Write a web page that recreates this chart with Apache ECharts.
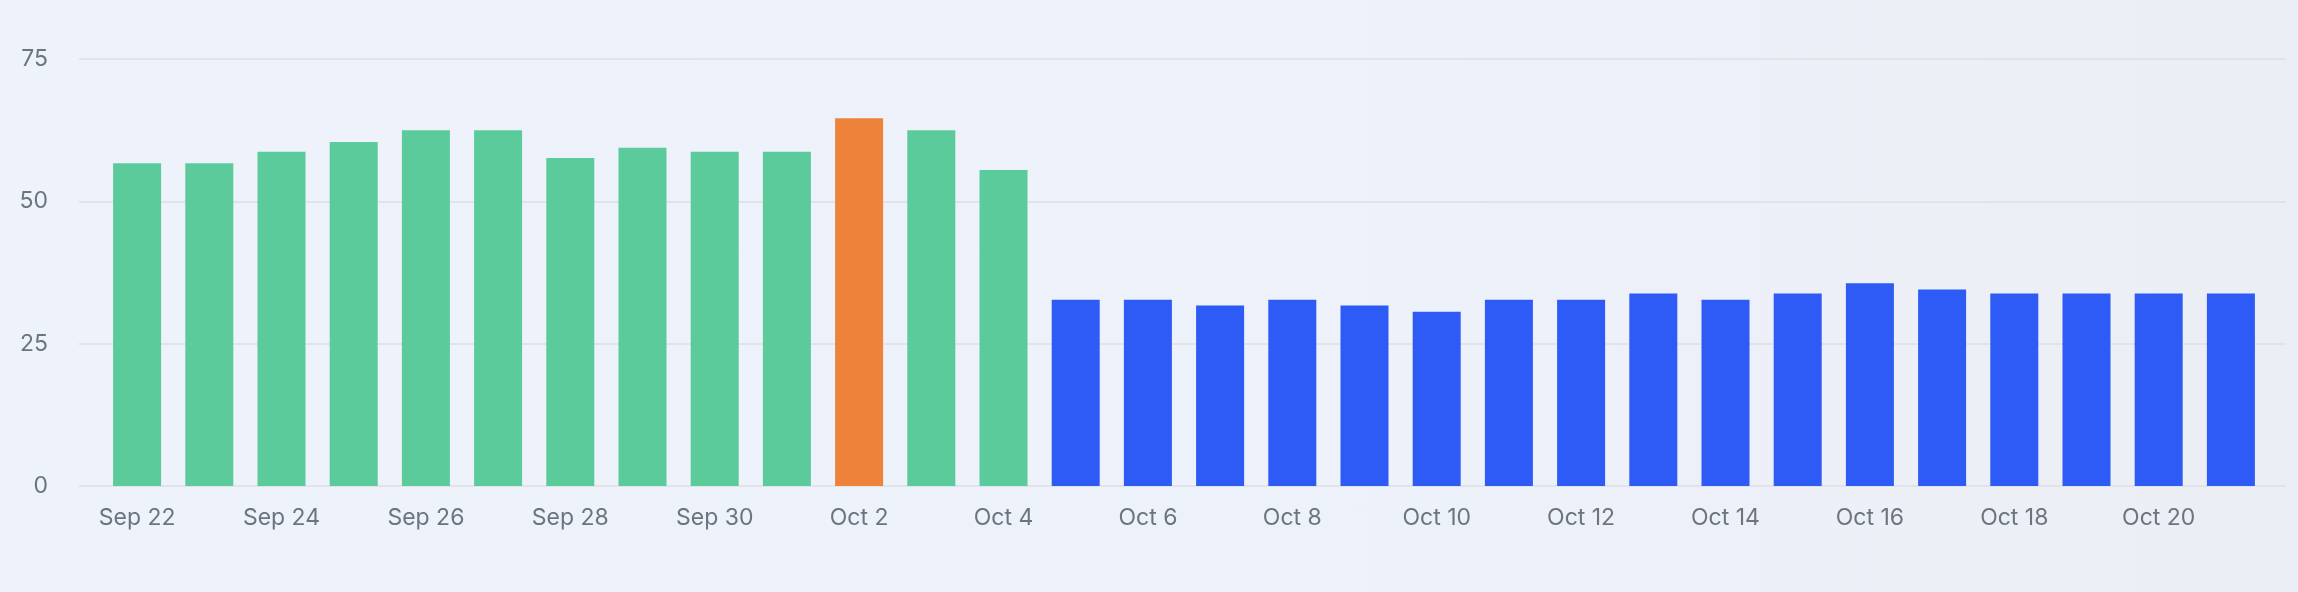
<!DOCTYPE html>
<html>
<head>
<meta charset="utf-8">
<script src="https://cdn.jsdelivr.net/npm/echarts@6/dist/echarts.min.js"></script>
<style>
  html, body { margin: 0; padding: 0; }
  body { width: 2298px; height: 592px; background: linear-gradient(90deg, #eef2fb 0%, #edf1f9 60%, #eceef5 100%); }
  #chart { width: 2298px; height: 592px; }
</style>
</head>
<body>
<div id="chart"></div>
<script>
const categories = [
  'Sep 22','Sep 23','Sep 24','Sep 25','Sep 26','Sep 27','Sep 28','Sep 29','Sep 30',
  'Oct 1','Oct 2','Oct 3','Oct 4','Oct 5','Oct 6','Oct 7','Oct 8','Oct 9','Oct 10',
  'Oct 11','Oct 12','Oct 13','Oct 14','Oct 15','Oct 16','Oct 17','Oct 18','Oct 19','Oct 20','Oct 21'
];
const values = [
  56.7, 56.7, 58.7, 60.4, 62.5, 62.5, 57.6, 59.4, 58.7,
  58.7, 64.6, 62.5, 55.5, 32.7, 32.7, 31.7, 32.7, 31.7, 30.6,
  32.7, 32.7, 33.8, 32.7, 33.8, 35.6, 34.5, 33.8, 33.8, 33.8, 33.8
];
const phases = [
  'before','before','before','before','before','before','before','before','before',
  'before','peak','before','before','after','after','after','after','after','after',
  'after','after','after','after','after','after','after','after','after','after','after'
];
const yTicks = [0, 25, 50, 75];

const phaseColors = { before: '#5ccb9c', peak: '#ee823a', after: '#2e5bf6' };
const FONT = 'Inter, "Noto Sans", sans-serif';

const chart = echarts.init(document.getElementById('chart'), null, { renderer: 'canvas' });
chart.setOption({
  backgroundColor: 'transparent',
  animation: false,
  grid: [
    { left: 79, right: 12, top: 59, bottom: 106 },
    { left: 101, right: 31, top: 59, bottom: 106 }
  ],
  xAxis: [
    { type: 'value', gridIndex: 0, min: 0, max: 1, show: false },
    {
      type: 'category', gridIndex: 1, data: categories,
      axisLine: { show: false }, axisTick: { show: false },
      axisLabel: { interval: 1, color: '#6b7580', fontSize: 23, fontFamily: FONT, margin: 21 }
    }
  ],
  yAxis: [
    {
      type: 'value', gridIndex: 0, min: yTicks[0], max: yTicks[yTicks.length - 1], interval: 25,
      axisLine: { show: false }, axisTick: { show: false },
      axisLabel: { color: '#6b7580', fontSize: 23, fontFamily: FONT, margin: 31 },
      splitLine: { show: true, lineStyle: { color: '#e1e3e8', width: 2 } }
    },
    {
      type: 'value', gridIndex: 1, min: yTicks[0], max: yTicks[yTicks.length - 1],
      show: false, splitLine: { show: false }
    }
  ],
  series: [{
    type: 'bar',
    xAxisIndex: 1, yAxisIndex: 1,
    barWidth: '66.5%',
    data: values.map((v, i) => ({ value: v, itemStyle: { color: phaseColors[phases[i]] } }))
  }]
});
</script>
</body>
</html>
